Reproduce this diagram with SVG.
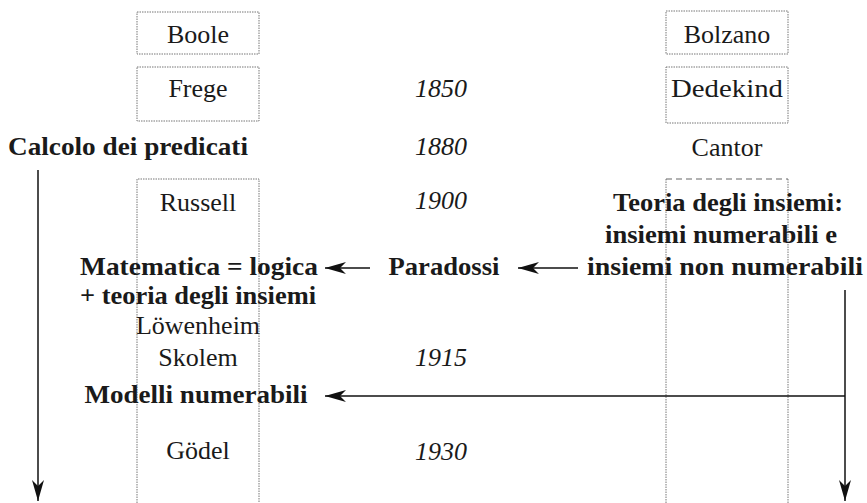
<svg xmlns="http://www.w3.org/2000/svg" width="867" height="503" viewBox="0 0 867 503">
<defs>
<marker id="ah" markerUnits="userSpaceOnUse" markerWidth="24" markerHeight="14" viewBox="-22 -7 24 14" refX="0" refY="0" orient="auto">
<path d="M0,0 L-21,-6 L-15,0 L-21,6 Z" fill="#111"/>
</marker>
<style>
.box{fill:none;stroke:#777;stroke-width:1;stroke-dasharray:1.5 1}
.dash{fill:none;stroke:#666;stroke-width:1.2;stroke-dasharray:6 4}
.c{fill:none;stroke:#111;stroke-width:1.5}
</style>
</defs>
<rect width="867" height="503" fill="#fff"/>
<g id="col-left">
<path class="box" d="M137,503 V179 H259 V503"/>
</g>
<g id="col-right">
<path class="box" d="M666,179 V503 M788,179 V503"/>
<path class="dash" d="M666,179 H788"/>
</g>
<g font-family="'Liberation Serif', serif" font-size="26" fill="#1a1a1a" text-anchor="middle">
<g id="boole"><rect class="box" x="137" y="12" width="122" height="42"/><text x="198" y="43">Boole</text></g>
<g id="bolzano"><rect class="box" x="666" y="11" width="122" height="43"/><text x="727" y="43">Bolzano</text></g>
<g id="frege"><rect class="box" x="137" y="67" width="122" height="54"/><text x="198" y="97">Frege</text></g>
<g id="dedekind"><rect class="box" x="666" y="67" width="122" height="56"/><text x="727" y="97" textLength="112" lengthAdjust="spacingAndGlyphs">Dedekind</text></g>
<g id="y1850"><text font-style="italic" x="441" y="97">1850</text></g>
<g id="calcolo"><text font-weight="bold" x="128" y="155" textLength="240" lengthAdjust="spacingAndGlyphs">Calcolo dei predicati</text></g>
<g id="y1880"><text font-style="italic" x="441" y="155">1880</text></g>
<g id="cantor"><text x="727" y="156">Cantor</text></g>
<g id="russell"><text x="198" y="211">Russell</text></g>
<g id="y1900"><text font-style="italic" x="441" y="209">1900</text></g>
<g id="teoria" font-weight="bold">
<text x="728" y="211" textLength="230" lengthAdjust="spacingAndGlyphs">Teoria degli insiemi:</text>
<text x="721" y="243" textLength="232" lengthAdjust="spacingAndGlyphs">insiemi numerabili e</text>
<text x="725" y="275" textLength="276" lengthAdjust="spacingAndGlyphs">insiemi non numerabili</text>
</g>
<g id="matematica" font-weight="bold">
<text x="199" y="275" textLength="238" lengthAdjust="spacingAndGlyphs">Matematica = logica</text>
<text x="198" y="304" textLength="236" lengthAdjust="spacingAndGlyphs">+ teoria degli insiemi</text>
</g>
<g id="paradossi"><text font-weight="bold" x="444" y="275" textLength="111" lengthAdjust="spacingAndGlyphs">Paradossi</text></g>
<g id="lowenheim"><text x="198" y="334">Löwenheim</text></g>
<g id="skolem"><text x="198" y="366">Skolem</text></g>
<g id="y1915"><text font-style="italic" x="441" y="366">1915</text></g>
<g id="modelli"><text font-weight="bold" x="196" y="403" textLength="223" lengthAdjust="spacingAndGlyphs">Modelli numerabili</text></g>
<g id="godel"><text x="198" y="459">Gödel</text></g>
<g id="y1930"><text font-style="italic" x="441" y="460">1930</text></g>
</g>
<g id="connectors">
<line class="c" x1="38" y1="170" x2="38" y2="501" marker-end="url(#ah)"/>
<line class="c" x1="845" y1="290" x2="845" y2="501" marker-end="url(#ah)"/>
<line class="c" x1="845" y1="396" x2="325" y2="396" marker-end="url(#ah)"/>
<line class="c" x1="578" y1="268" x2="518" y2="268" marker-end="url(#ah)"/>
<line class="c" x1="370" y1="268" x2="325" y2="268" marker-end="url(#ah)"/>
</g>
</svg>
